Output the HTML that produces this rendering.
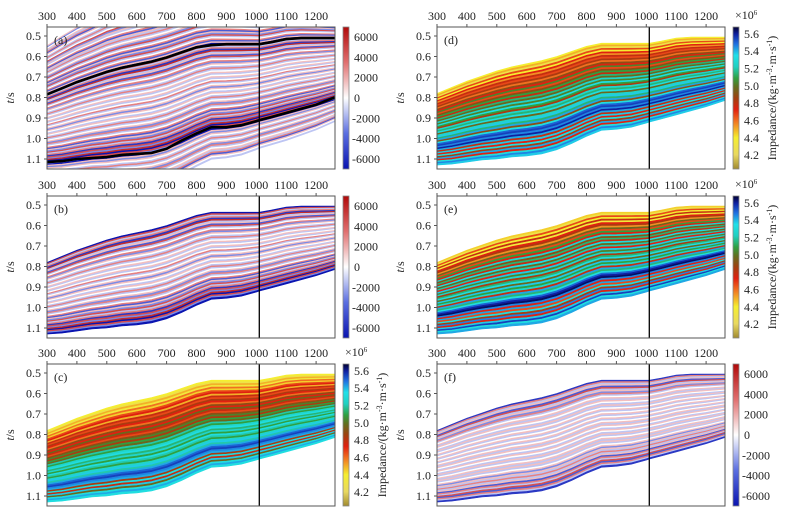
<!DOCTYPE html>
<html><head><meta charset="utf-8">
<style>
html,body{margin:0;padding:0;background:#fff;}
svg{display:block;}
text{font-family:"Liberation Serif","Times New Roman",serif;font-size:12px;fill:#222;}
</style></head>
<body>
<svg id="fig" width="790" height="516" viewBox="0 0 790 516" xmlns="http://www.w3.org/2000/svg" font-family="Liberation Serif, serif">
<defs>
<linearGradient id="gSeis" x1="0" y1="1" x2="0" y2="0">
<stop offset="0" stop-color="#0a14b0"/><stop offset="0.25" stop-color="#5a6ee0"/><stop offset="0.5" stop-color="#ffffff"/><stop offset="0.75" stop-color="#e07070"/><stop offset="1" stop-color="#b00a0a"/>
</linearGradient>
<linearGradient id="gImp" x1="0" y1="1" x2="0" y2="0">
<stop offset="0" stop-color="#a08a30"/><stop offset="0.1" stop-color="#e8d860"/><stop offset="0.22" stop-color="#f5ee30"/><stop offset="0.34" stop-color="#f07020"/><stop offset="0.42" stop-color="#e02010"/><stop offset="0.5" stop-color="#a04010"/><stop offset="0.58" stop-color="#607020"/><stop offset="0.64" stop-color="#30a040"/><stop offset="0.72" stop-color="#20d0c0"/><stop offset="0.8" stop-color="#20e0e8"/><stop offset="0.88" stop-color="#2070e0"/><stop offset="0.95" stop-color="#1020a0"/><stop offset="1" stop-color="#000030"/>
</linearGradient>
</defs>
</svg>
<script>
// ---- data ----
const traces = [300,350,400,450,500,550,600,650,700,750,800,850,900,950,1000,1010,1050,1100,1150,1200,1262];
const topT = [0.78,0.75,0.72,0.695,0.67,0.65,0.635,0.62,0.60,0.575,0.55,0.535,0.535,0.535,0.535,0.535,0.525,0.51,0.505,0.505,0.505];
const botT = [1.13,1.125,1.115,1.105,1.10,1.09,1.085,1.075,1.055,1.025,0.99,0.96,0.955,0.945,0.925,0.92,0.905,0.885,0.865,0.845,0.815];
const horizonUpper = [0.785,0.755,0.725,0.70,0.675,0.655,0.64,0.625,0.605,0.58,0.555,0.545,0.54,0.54,0.54,0.54,0.53,0.515,0.51,0.51,0.51];
const horizonLower = [1.115,1.11,1.10,1.095,1.09,1.08,1.075,1.07,1.05,1.01,0.975,0.945,0.945,0.935,0.915,0.91,0.895,0.875,0.855,0.835,0.80];
const seisAmp = [-5,3,-1,2,-4,4,-1,1,-3,3,-1,0,2,-2,1,0,-1,2,-1,0,1,-1,0,1,-1,0,2,-1,0,1,-2,1,0,-1,1,0,-1,2,-1,0,1,-2,2,-1,0,2,-3,1,-2,3,-1,2,-4,3,-2,4,-5,3,-2,-5];
const seisAbove = [1,-2,0,1,-1,2,-3,1,0,-1,2,-1,0,3,-2,1,-1,0,2,-3,1,-1,2,-1,0,1,-2,3,-1,0,2,-3,1,-2,3,-1,0,2,-3,1];
const seisBelow = [1,-2,1,0,-1,2,-1,0,1,-2,2,-1,0,1,-1,2,-3,1,0,-1];
const residAmp = [-4,2,-1,1,-3,3,-1,1,-2,2,-1,0,1,-1,1,0,-1,1,-1,0,1,-1,0,1,-1,0,1,-1,0,1,-1,1,0,-1,1,0,-1,1,-1,0,1,-1,1,-1,0,1,-2,1,-1,2,-1,1,-3,2,-1,3,-3,2,-1,-4];
const impC = [4.4,4.3,4.5,4.35,4.6,4.45,4.65,4.7,4.5,4.75,4.65,4.8,4.7,4.6,4.85,4.7,4.9,4.75,4.65,4.85,4.95,4.8,5.0,4.9,5.1,5.0,5.15,5.2,5.05,5.15,5.0,5.2,5.1,5.0,5.15,5.25,5.1,5.3,5.4,5.45,5.35,5.3,4.8,5.2,4.75,5.25,4.9,5.2,5.3,5.2];
const impD = [4.4,4.5,4.3,4.65,4.4,4.7,4.55,4.75,4.65,4.8,4.6,4.85,4.7,4.95,4.65,4.85,5.0,4.75,5.05,4.9,5.15,4.95,5.2,5.0,4.8,5.15,5.05,5.2,4.9,5.15,5.25,5.05,5.3,4.85,5.2,5.4,5.45,5.35,5.5,5.3,4.75,5.25,4.7,5.2,4.8,5.3,4.7,5.2,5.35,5.25];
const impE = [4.45,4.3,4.65,4.4,4.75,4.35,4.7,4.8,4.55,4.9,4.65,5.0,4.7,5.15,4.85,5.05,4.75,5.2,4.9,5.1,4.7,5.25,4.95,5.15,4.8,5.05,5.2,4.9,5.25,5.0,5.15,4.75,5.3,5.05,5.2,5.4,5.5,5.6,5.35,4.7,5.3,4.65,5.2,4.8,5.35,4.7,5.25,5.45,5.2,5.3];
const xTicks = [300,400,500,600,700,800,900,1000,1100,1200];
const yTicks = [0.5,0.6,0.7,0.8,0.9,1.0,1.1];
const seisCbTicks = [6000,4000,2000,0,-2000,-4000,-6000];
const impCbTicks = [5.6,5.4,5.2,5.0,4.8,4.6,4.4,4.2];
const markerTrace = 1010;

// ---- helpers ----
const NS = "http://www.w3.org/2000/svg";
const svg = document.getElementById('fig');
function mk(tag, attrs, parent){const e=document.createElementNS(NS,tag);for(const k in attrs)e.setAttribute(k,attrs[k]);(parent||svg).appendChild(e);return e;}
function lerp(a,b,t){return a+(b-a)*t;}
function hex(c){return [parseInt(c.slice(1,3),16),parseInt(c.slice(3,5),16),parseInt(c.slice(5,7),16)];}
function cmap(stops, v){
  if(v<=stops[0][0])return stops[0][1];
  for(let i=1;i<stops.length;i++){if(v<=stops[i][0]){const t=(v-stops[i-1][0])/(stops[i][0]-stops[i-1][0]);const a=hex(stops[i-1][1]),b=hex(stops[i][1]);return 'rgb('+a.map((x,j)=>Math.round(lerp(x,b[j],t))).join(',')+')';}}
  return stops[stops.length-1][1];
}
const seisStops=[[-5,'#0a14b0'],[-2.5,'#5a6ee0'],[0,'#ffffff'],[2.5,'#e06060'],[5,'#b00a0a']];
const impStops=[[4.05,'#a08a30'],[4.2,'#e8d860'],[4.4,'#f5ee30'],[4.6,'#f07020'],[4.7,'#e02010'],[4.82,'#a04010'],[4.92,'#607020'],[5.0,'#30a040'],[5.12,'#20d0c0'],[5.22,'#20e0e8'],[5.38,'#2070e0'],[5.5,'#1020a0'],[5.68,'#000030']];

function panel(o){
  const X0=o.x, W=288, Y0=o.y, H=142;
  const sx=t=>X0+(t-300)*0.299;
  const sy=t=>Y0+9+(t-0.5)*205;
  const g=mk('g',{});
  
  
  const cid='clip'+o.label;
  const cp=mk('clipPath',{id:cid},g); mk('rect',{x:X0,y:Y0,width:W,height:H},cp);
  const body=mk('g',{'clip-path':'url(#'+cid+')'},g);
  function band(f0,f1,color){
    let pts=[];
    for(let i=0;i<traces.length;i++){const t=lerp(topT[i],botT[i],f0);pts.push(sx(traces[i]).toFixed(1)+','+sy(t).toFixed(1));}
    for(let i=traces.length-1;i>=0;i--){const t=lerp(topT[i],botT[i],f1);pts.push(sx(traces[i]).toFixed(1)+','+sy(t).toFixed(1));}
    const p=mk('polygon',{points:pts.join(' '),fill:color,stroke:color,'stroke-width':0.6},body);
    
    
  }
  const arr=o.values, n=arr.length;
  if(o.above){const m=o.above.length;o.above.forEach((v,i)=>band(-(m-i)/n,-(m-i-1)/n,cmap(seisStops,v)));}
  arr.forEach((v,i)=>band(i/n,(i+1)/n,cmap(o.type==='imp'?impStops:seisStops,v)));
  if(o.below){o.below.forEach((v,i)=>band(1+i/n,1+(i+1)/n,cmap(seisStops,v)));}
  if(o.horizons){
    [horizonUpper,horizonLower].forEach(h=>{
      const pl=mk('polyline',{points:traces.map((t,i)=>sx(t).toFixed(1)+','+sy(h[i]).toFixed(1)).join(' '),fill:'none',stroke:'#000','stroke-width':2.6},body);
      
      
    });
  }
  const vl=mk('line',{x1:sx(markerTrace),x2:sx(markerTrace),y1:Y0,y2:Y0+H,stroke:'#000','stroke-width':1.3},g);
  
  
  mk('rect',{x:X0,y:Y0,width:W,height:H,fill:'none',stroke:'#555','stroke-width':1},g);
  xTicks.forEach(v=>{mk('line',{x1:sx(v),x2:sx(v),y1:Y0,y2:Y0-3,stroke:'#555'},g);const t=mk('text',{x:sx(v),y:Y0-7,'text-anchor':'middle'},g);t.textContent=v;});
  yTicks.forEach(v=>{mk('line',{x1:X0,x2:X0-3,y1:sy(v),y2:sy(v),stroke:'#555'},g);const t=mk('text',{x:X0-6,y:sy(v)+4,'text-anchor':'end'},g);t.textContent=v.toFixed(1);});
  const yt=mk('text',{x:0,y:0,transform:'translate('+(X0-33)+','+(Y0+H/2)+') rotate(-90)','text-anchor':'middle'},g);
  yt.innerHTML='<tspan font-style="italic">t</tspan>/s';
  
  
  const lb=mk('text',{x:X0+7,y:Y0+17},g);lb.textContent='('+o.label+')';
  
  
  const cx=X0+W+8;
  const cb=mk('rect',{x:cx,y:Y0,width:6,height:H,fill:o.type==='imp'?'url(#gImp)':'url(#gSeis)',stroke:'#888','stroke-width':0.8},g);
  
  
  if(o.type==='imp'){
    const cy=v=>Y0+H-(v-4.04)/(5.68-4.04)*H;
    impCbTicks.forEach(v=>{const t=mk('text',{x:cx+11,y:cy(v)+4},g);t.textContent=v.toFixed(1);});
    const e=mk('text',{x:cx+2,y:Y0-8,'font-size':'10'},g);e.innerHTML='×10<tspan dy="-4" font-size="7">6</tspan>';
    
    
    const ct=mk('text',{x:0,y:0,transform:'translate('+(cx+43)+','+(Y0+H/2)+') rotate(-90)','text-anchor':'middle'},g);
    ct.innerHTML='Impedance/(kg·m<tspan dy="-4" font-size="8">-3</tspan><tspan dy="4">·m·s</tspan><tspan dy="-4" font-size="8">-1</tspan><tspan dy="4">)</tspan>';
    
    
  } else {
    const cy=v=>Y0+H/2-v/7000*(H/2);
    seisCbTicks.forEach(v=>{const t=mk('text',{x:cx+(v<0?9:11),y:cy(v)+4},g);t.textContent=v;});
  }
}
panel({name:'panel-a-seismic-with-horizons',label:'a',x:47,y:27,type:'seis',values:seisAmp,above:seisAbove,below:seisBelow,horizons:true});
panel({name:'panel-b-seismic',label:'b',x:47,y:196,type:'seis',values:seisAmp});
panel({name:'panel-c-impedance',label:'c',x:47,y:364,type:'imp',values:impC});
panel({name:'panel-d-impedance',label:'d',x:437,y:27,type:'imp',values:impD});
panel({name:'panel-e-impedance',label:'e',x:437,y:196,type:'imp',values:impE});
panel({name:'panel-f-seismic-residual',label:'f',x:437,y:364,type:'seis',values:residAmp});
</script>
</body></html>
